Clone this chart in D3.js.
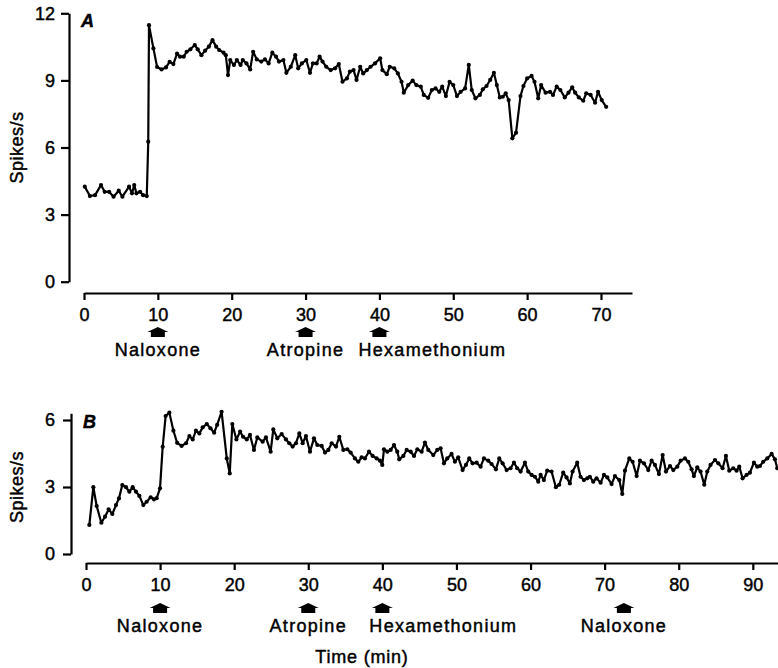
<!DOCTYPE html>
<html>
<head>
<meta charset="utf-8">
<script src="https://cdn.jsdelivr.net/npm/d3@7"></script>
<style>
  body { margin: 0; background: #fff; }
  text { font-family: "Liberation Sans", Arial, sans-serif; fill: #000; stroke: #000; stroke-width: 0.45px; }
</style>
</head>
<body>
<div class="canvas"></div>
<script>
// panel A data (time in min, firing rate in spikes/s)
const timeA = [0.1,0.8,1.5,2.3,2.8,3.4,4.0,4.7,5.2,6.1,6.5,6.8,7.1,7.6,8.0,8.5,8.7,8.8,9.4,9.9,
  10.5,11.1,11.6,12.1,12.6,13.0,13.5,13.9,14.4,15.0,15.4,15.9,16.4,16.9,17.4,17.9,18.3,18.9,19.2,19.5,
  19.8,20.3,20.7,21.2,21.5,22.0,22.5,22.9,23.4,24.0,24.5,25.0,25.5,26.0,26.4,27.0,27.4,28.0,28.6,29.0,
  29.5,30.1,30.6,31.0,31.5,31.9,32.3,32.8,33.4,34.0,34.5,35.0,35.6,36.0,36.5,36.9,37.4,37.8,38.3,38.8,
  39.4,40.1,40.4,41.0,41.4,42.0,42.5,43.0,43.3,43.9,44.5,45.0,45.6,46.0,46.6,47.1,47.6,48.1,48.5,49.0,
  49.5,50.0,50.5,51.0,51.6,52.1,52.5,53.0,53.6,54.0,54.5,55.0,55.5,55.9,56.3,56.7,57.1,57.5,58.0,58.5,
  59.1,59.5,60.0,60.6,61.0,61.5,61.9,62.5,63.1,63.5,64.0,64.5,65.1,65.6,66.1,66.5,67.0,67.6,68.0,68.6,
  69.2,69.6,70.1,70.7];
const rateA = [4.25,3.83,3.87,4.32,4.02,4.02,3.80,4.07,3.80,4.25,3.95,4.32,3.95,4.02,3.87,3.83,6.26,11.47,10.43,9.60,
  9.49,9.58,9.83,9.73,10.20,10.06,10.06,10.28,10.39,10.58,10.39,10.13,10.33,10.51,10.80,10.51,10.36,10.24,10.13,9.24,
  9.91,9.69,9.91,9.69,9.91,9.76,9.49,10.28,9.94,9.84,9.94,9.76,10.24,10.06,9.84,9.91,9.34,9.61,10.13,9.54,
  9.76,9.91,9.34,9.76,9.76,10.06,9.84,9.61,9.46,9.54,9.73,8.94,9.09,9.39,9.46,9.02,9.61,9.31,9.46,9.61,
  9.76,9.99,9.46,9.28,9.61,9.54,9.31,8.94,8.45,8.79,8.99,8.79,8.72,8.35,8.22,8.57,8.64,8.49,8.72,8.30,
  8.94,8.79,8.30,8.49,8.64,9.69,8.57,8.20,8.35,8.60,8.75,9.02,9.34,8.79,8.24,8.27,8.42,8.12,6.41,6.66,
  8.30,8.75,9.09,9.20,8.94,8.20,8.79,8.45,8.49,8.35,8.72,8.57,8.24,8.45,8.69,8.45,8.24,8.09,8.42,8.35,
  8.00,8.49,8.12,7.82];

// panel B data
const timeB = [0.45,0.99,1.44,2.07,2.57,3.06,3.55,4.05,4.45,4.9,5.4,5.85,6.3,6.75,7.2,7.74,8.19,8.73,9.18,9.54,
  9.99,10.35,10.75,11.25,11.8,12.3,12.9,13.5,13.95,14.4,14.84,15.3,15.75,16.3,16.8,17.3,17.7,18.3,19.0,19.4,
  19.75,20.3,20.8,21.2,21.7,22.13,22.67,23.12,23.84,24.29,24.92,25.28,25.82,26.41,26.99,27.44,27.89,28.34,28.79,29.24,
  29.69,30.23,30.77,31.22,31.81,32.26,32.71,33.16,33.74,34.19,34.73,35.27,35.72,36.3,36.75,37.2,37.65,38.19,38.69,39.23,
  39.68,39.99,40.22,40.67,41.12,41.57,42.01,42.28,42.83,43.28,43.82,44.27,44.72,45.3,45.75,46.2,46.87,47.41,47.86,48.31,
  48.76,49.34,49.79,50.24,50.83,51.28,51.73,52.18,52.72,53.26,53.71,54.29,54.74,55.33,55.78,56.23,56.77,57.3,57.76,58.2,
  58.66,59.24,59.69,60.14,60.59,61.04,61.36,61.8,62.25,62.84,63.42,63.87,64.41,64.86,65.31,65.67,66.3,66.75,67.2,67.65,
  68.0,68.46,68.91,69.46,69.91,70.36,70.94,71.39,71.98,72.38,72.74,73.33,73.78,74.32,74.77,75.31,75.89,76.34,76.79,77.33,
  77.83,78.28,78.82,79.27,79.81,80.26,80.84,81.29,81.74,82.05,82.5,82.95,83.45,83.85,84.3,84.89,85.34,85.92,86.37,86.82,
  87.36,87.81,88.17,88.62,89.16,89.61,90.15,90.6,90.96,91.41,91.95,92.54,92.99,93.3];
const rateB = [1.30,2.99,2.15,1.40,1.67,2.00,1.79,2.19,2.49,3.09,2.99,2.79,2.99,2.79,2.60,2.19,2.34,2.54,2.45,2.50,
  2.94,4.80,6.18,6.33,5.52,4.98,4.84,4.96,5.28,5.13,5.52,5.40,5.67,5.82,5.63,5.43,5.78,6.37,4.28,3.61,
  5.82,5.13,5.48,5.25,5.13,5.33,4.66,5.22,5.03,5.22,4.58,5.58,5.18,5.37,5.13,4.96,4.81,4.96,5.40,4.96,
  5.28,4.58,5.18,4.88,4.84,4.54,4.66,4.96,4.81,5.25,4.66,4.69,4.54,4.28,4.13,4.33,4.28,4.58,4.39,4.28,
  4.18,3.99,4.69,4.58,4.66,4.88,4.58,4.24,4.39,4.66,4.58,4.39,4.69,4.58,4.99,4.66,4.43,4.66,4.73,4.06,
  4.28,4.48,4.13,4.33,3.76,3.99,4.28,4.06,4.09,3.91,4.28,4.18,4.03,3.79,4.28,4.06,3.76,3.84,4.09,3.84,
  3.69,4.09,3.69,3.54,3.46,3.24,3.54,3.31,3.73,3.69,2.99,3.10,3.64,3.43,3.16,3.69,4.09,3.46,3.31,3.39,
  3.46,3.24,3.39,3.19,3.54,3.43,3.13,3.49,3.31,2.69,3.73,4.28,4.13,3.49,4.18,4.06,3.76,4.18,3.99,3.58,
  4.43,3.69,3.94,3.76,3.91,4.18,4.28,4.13,3.79,3.49,3.88,3.69,3.10,3.69,3.99,4.21,4.06,3.84,4.39,3.73,
  3.84,3.73,3.91,3.39,3.54,3.64,4.09,3.91,3.94,4.13,4.28,4.48,4.24,3.84];

// ticks and drug markers
const xTicksA = [0, 10, 20, 30, 40, 50, 60, 70];
const yTicksA = [0, 3, 6, 9, 12];
const xTicksB = [0, 10, 20, 30, 40, 50, 60, 70, 80, 90];
const yTicksB = [0, 3, 6];
const drugsA = ['Naloxone', 'Atropine', 'Hexamethonium'];
const drugTimesA = [10, 30, 40];
const drugsB = ['Naloxone', 'Atropine', 'Hexamethonium', 'Naloxone'];
const drugTimesB = [10, 30, 40, 72.6];

const svg = d3.select('.canvas')
    .append('svg')
    .attr('width', 778)
    .attr('height', 668);

// draws one panel of the figure
function panel(opt) {
    const x = d3.scaleLinear().domain(opt.xDomain).range(opt.xRange);
    const y = d3.scaleLinear().domain(opt.yDomain).range(opt.yRange);

    const xAxis = d3.axisBottom(x)
        .tickValues(opt.xTicks)
        .tickSize(7)
        .tickSizeOuter(0)
        .tickPadding(8)
        .tickFormat(d3.format('d'));
    const yAxis = d3.axisLeft(y)
        .tickValues(opt.yTicks)
        .tickSize(8)
        .tickSizeOuter(0)
        .tickPadding(opt.yPad)
        .tickFormat(d3.format('d'));

    const gx = svg.append('g')
        .attr('transform', `translate(0, ${opt.xAxisY})`)
        .call(xAxis);
    const gy = svg.append('g')
        .attr('transform', `translate(${opt.yAxisX}, 0)`)
        .call(yAxis);

    [gx, gy].forEach(g => {
        g.select('.domain').attr('stroke', '#000').attr('stroke-width', 2.2);
        g.selectAll('.tick line').attr('stroke', '#000').attr('stroke-width', 2.2);
        g.selectAll('text')
            .attr('font-size', 18)
            .attr('font-family', '"Liberation Sans", Arial, sans-serif')
            .attr('fill', '#000');
    });

    const pts = opt.times.map((t, i) => [t, opt.rates[i]]);
    const line = d3.line().x(d => x(d[0])).y(d => y(d[1]));

    svg.append('path')
        .datum(pts)
        .attr('d', line)
        .attr('fill', 'none')
        .attr('stroke', '#000')
        .attr('stroke-width', 2.2)
        .attr('stroke-linejoin', 'round');

    svg.append('g').selectAll('circle')
        .data(pts)
        .enter()
        .append('circle')
        .attr('cx', d => x(d[0]))
        .attr('cy', d => y(d[1]))
        .attr('r', 2.1)
        .attr('fill', '#000');

    // panel letter
    svg.append('text')
        .attr('x', opt.yAxisX + 12)
        .attr('y', y(opt.yDomain[1]) + opt.letterDy)
        .attr('font-size', 18)
        .attr('font-style', 'italic')
        .attr('font-weight', 'bold')
        .text(opt.letter);

    // y label
    svg.append('text')
        .attr('transform', `translate(23, ${(y(0) + y(opt.yTicks[opt.yTicks.length - 1])) / 2}) rotate(-90)`)
        .attr('text-anchor', 'middle')
        .attr('font-size', 18)
        .attr('letter-spacing', 0.5)
        .text('Spikes/s');

    // drug arrows + names
    opt.drugTimes.forEach((t, i) => {
        const cx = x(t);
        const top = opt.arrowY;
        svg.append('path')
            .attr('d', `M${cx},${top} L${cx + 10.5},${top + 5} L${cx + 7},${top + 5} L${cx + 7},${top + 10}` +
                ` L${cx - 7},${top + 10} L${cx - 7},${top + 5} L${cx - 10.5},${top + 5} Z`)
            .attr('fill', '#000');
        const name = opt.drugs[i];
        const hexa = name === 'Hexamethonium';
        svg.append('text')
            .attr('x', hexa ? cx + opt.hexaDx : cx)
            .attr('y', top + 29)
            .attr('text-anchor', hexa ? 'start' : 'middle')
            .attr('font-size', 18)
            .attr('letter-spacing', 1.3)
            .text(name);
    });
}

panel({
    times: timeA, rates: rateA,
    xDomain: [0, 74.2], xRange: [84, 632],
    yDomain: [0, 12], yRange: [281.7, 13.3],
    xTicks: xTicksA, yTicks: yTicksA,
    xAxisY: 293, yAxisX: 69, yPad: 6,
    letter: 'A', letterDy: 14, hexaDx: -21,
    drugs: drugsA, drugTimes: drugTimesA, arrowY: 327
});

panel({
    times: timeB, rates: rateB,
    xDomain: [0, 93.4], xRange: [86, 778],
    yDomain: [0, 6.3], yRange: [554, 413.3],
    xTicks: xTicksB, yTicks: yTicksB,
    xAxisY: 563, yAxisX: 71, yPad: 8,
    letter: 'B', letterDy: 15, hexaDx: -13,
    drugs: drugsB, drugTimes: drugTimesB, arrowY: 603
});

svg.append('text')
    .attr('x', 362)
    .attr('y', 663)
    .attr('text-anchor', 'middle')
    .attr('font-size', 18)
    .attr('letter-spacing', 0.8)
    .text('Time (min)');
</script>
</body>
</html>
